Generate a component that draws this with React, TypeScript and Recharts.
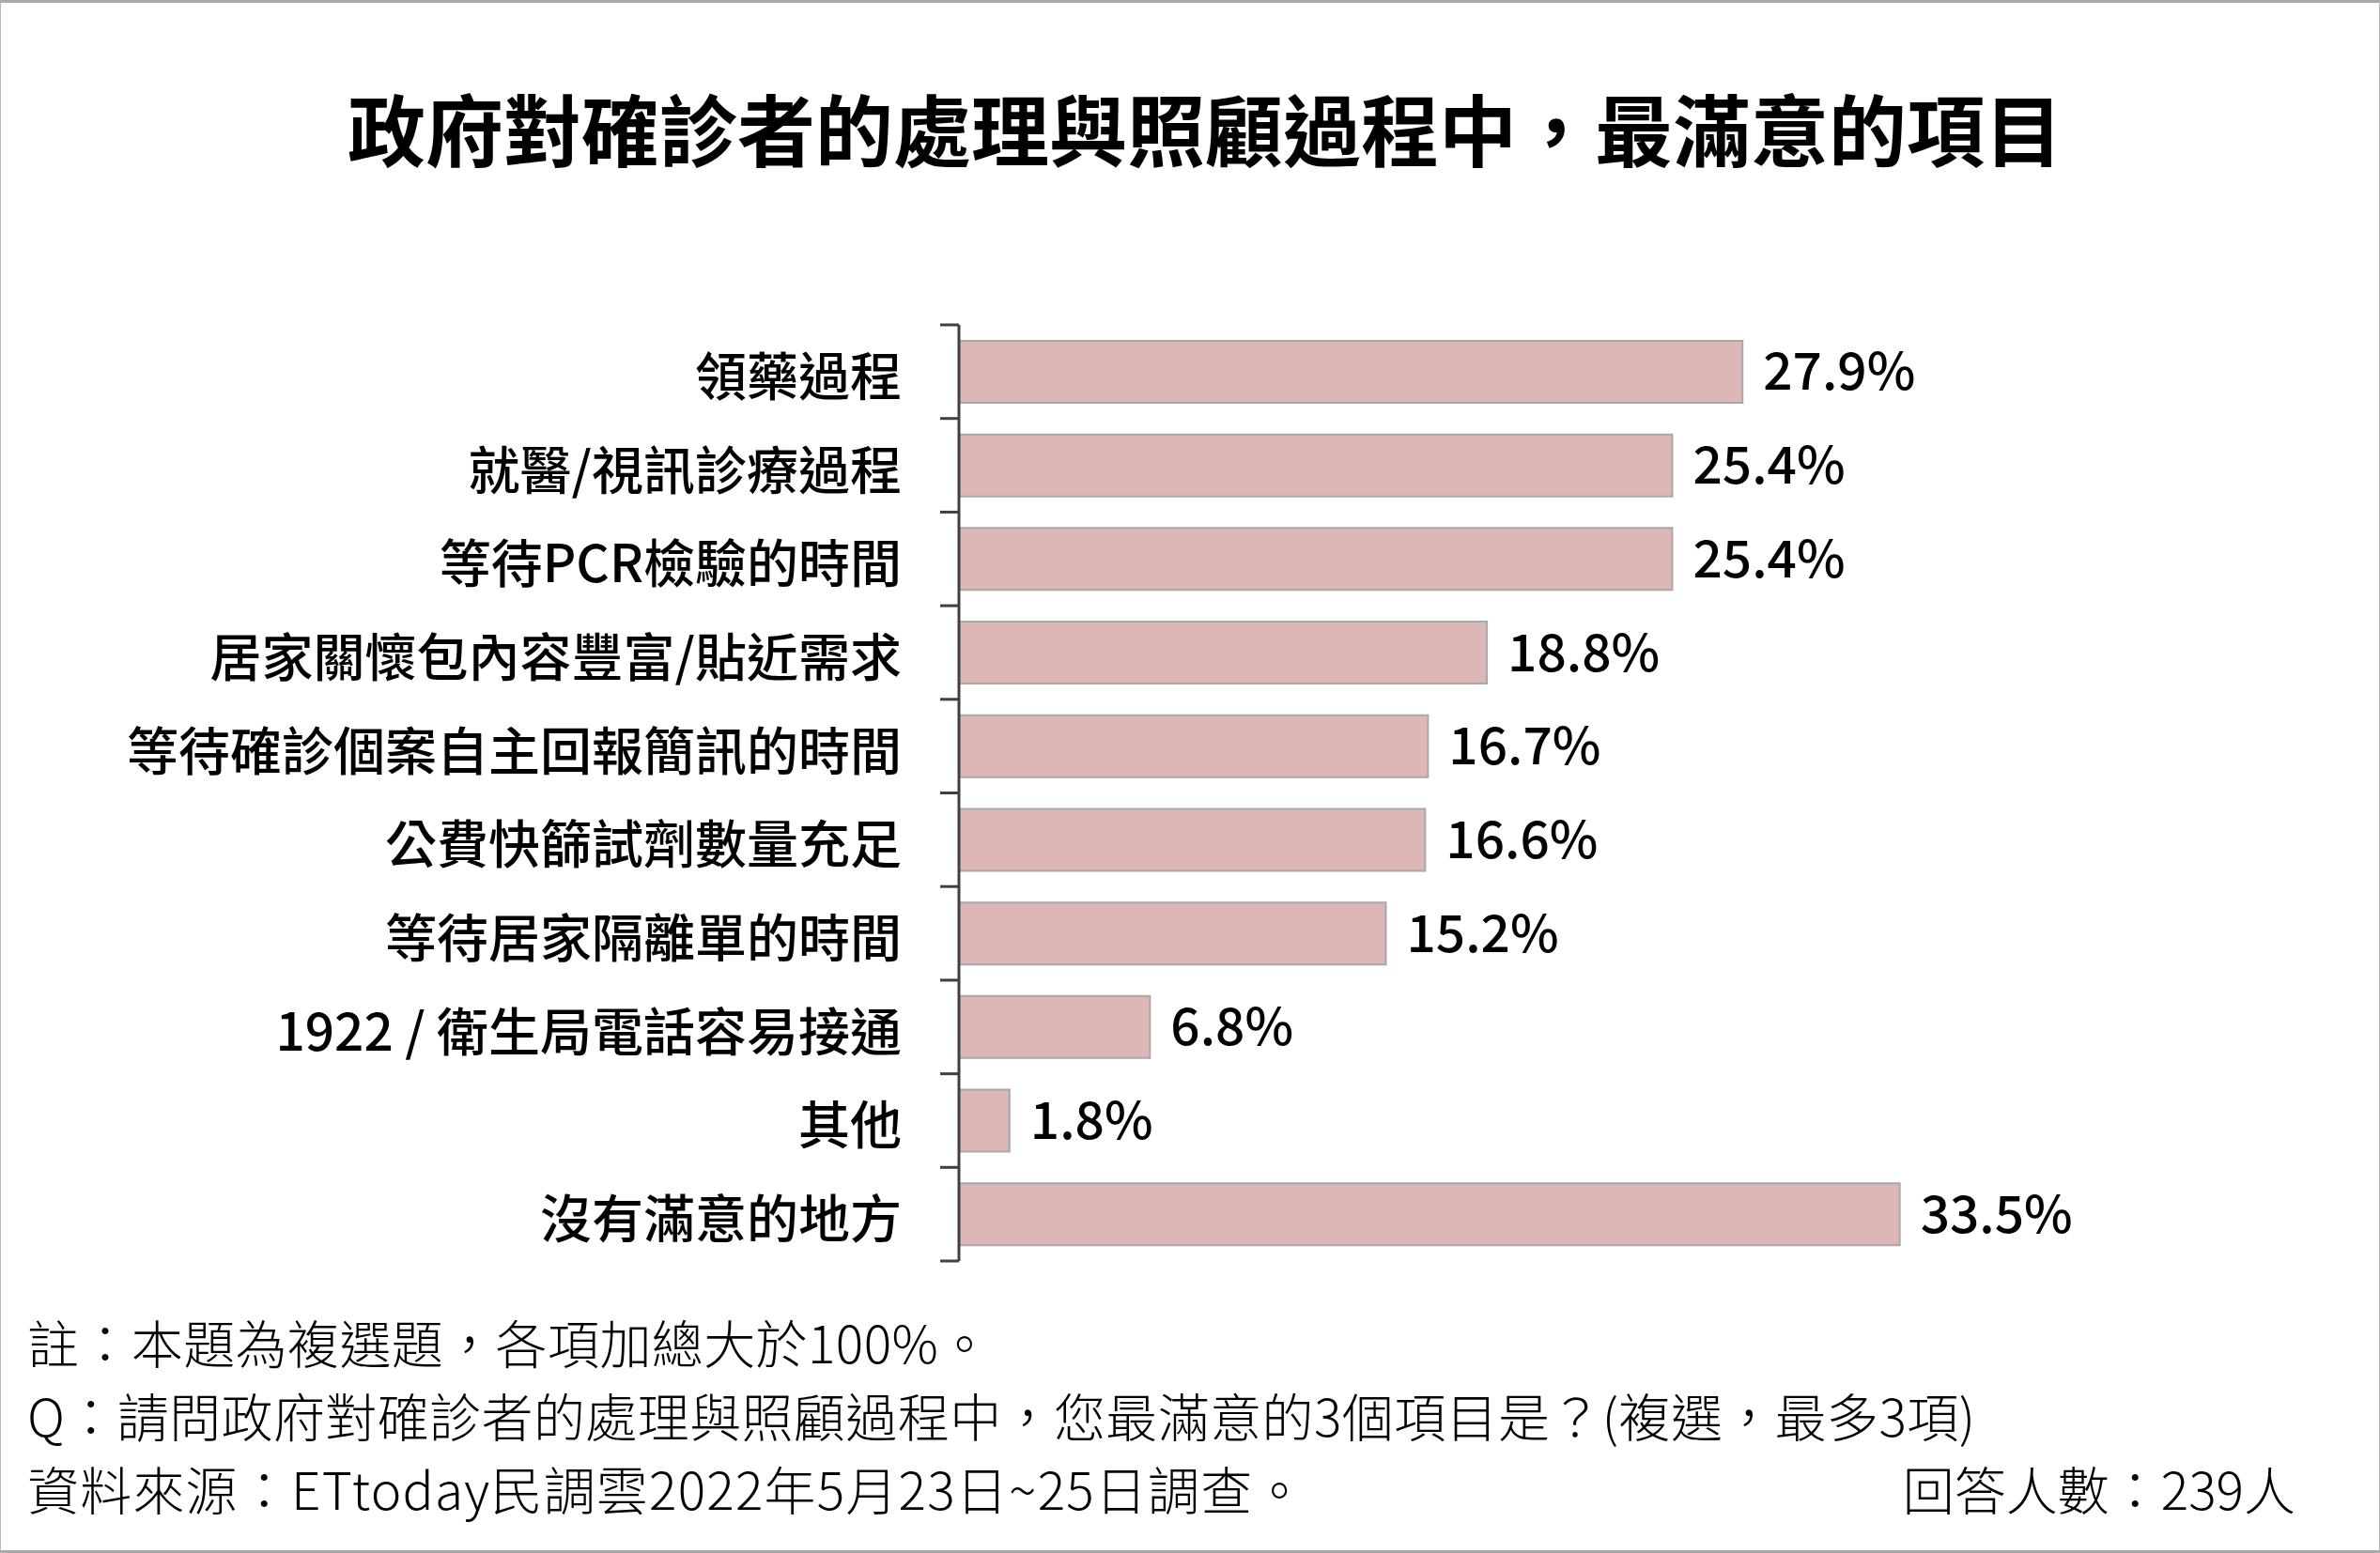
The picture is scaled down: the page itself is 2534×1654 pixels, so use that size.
import React from 'react';
import { BarChart, Bar, XAxis, YAxis, LabelList } from 'recharts';

const categories = [
  '領藥過程',
  '就醫/視訊診療過程',
  '等待PCR檢驗的時間',
  '居家關懷包內容豐富/貼近需求',
  '等待確診個案自主回報簡訊的時間',
  '公費快篩試劑數量充足',
  '等待居家隔離單的時間',
  '1922 / 衛生局電話容易接通',
  '其他',
  '沒有滿意的地方',
];
const values = [27.9, 25.4, 25.4, 18.8, 16.7, 16.6, 15.2, 6.8, 1.8, 33.5];

const title = '政府對確診者的處理與照顧過程中，最滿意的項目';
const noteLines = [
  '註：本題為複選題，各項加總大於100%。',
  'Q：請問政府對確診者的處理與照顧過程中，您最滿意的3個項目是？(複選，最多3項)',
  '資料來源：ETtoday民調雲2022年5月23日~25日調查。',
];
const respondents = '回答人數：239人';

const data = categories.map((name, i) => ({ name, value: values[i] }));

const FONT = '"Noto Sans CJK TC", "Noto Sans", sans-serif';
const W = 2534;
const H = 1654;
const AXIS_X = 1020;
const PLOT_TOP = 346;
const PLOT_BOTTOM = 1343;
const CHART_H = 1400;
const PLOT_RIGHT = 2216;
const AXIS_COLOR = '#404040';

const CategoryTick = (props: any) => {
  const { y, payload, index, visibleTicksCount } = props;
  const half = payload && payload.offset ? payload.offset : 50;
  const isLast = index === (visibleTicksCount ?? categories.length) - 1;
  return (
    <g>
      <line x1={AXIS_X - 20} x2={AXIS_X} y1={y - half} y2={y - half} stroke={AXIS_COLOR} strokeWidth={3} />
      {isLast && (
        <line x1={AXIS_X - 20} x2={AXIS_X} y1={y + half} y2={y + half} stroke={AXIS_COLOR} strokeWidth={3} />
      )}
      <text
        x={AXIS_X - 61}
        y={y + 1}
        textAnchor="end"
        dominantBaseline="central"
        fontFamily={FONT}
        fontSize={55}
        fontWeight={500}
        fill="#000"
      >
        {payload.value}
      </text>
    </g>
  );
};

const noteTops = [1428, 1506, 1584];
const noteSpacing = [0.4, 0.4, 1.2];

export default function App() {
  return (
    <div
      style={{
        position: 'absolute',
        left: 0,
        top: 0,
        width: W,
        height: H,
        background: '#fff',
        boxSizing: 'border-box',
        borderTop: '3px solid #a8a8a8',
        borderBottom: '3px solid #a8a8a8',
        borderLeft: '1px solid #b8b8b8',
        borderRight: '1px solid #b8b8b8',
        overflow: 'hidden',
        fontFamily: FONT,
      }}
    >
      <div
        style={{
          position: 'absolute',
          left: 0,
          top: 82,
          width: W + 30,
          textAlign: 'center',
          fontSize: 83,
          fontWeight: 700,
          lineHeight: '100px',
          color: '#000',
          whiteSpace: 'nowrap',
        }}
      >
        {title}
      </div>

      <div style={{ position: 'absolute', left: 0, top: -3 }}>
        <BarChart
          width={W}
          height={CHART_H}
          data={data}
          layout="vertical"
          margin={{ top: PLOT_TOP, right: W - PLOT_RIGHT, bottom: CHART_H - PLOT_BOTTOM, left: 0 }}
          barCategoryGap="17%"
        >
          <XAxis type="number" domain={[0, 40]} hide />
          <YAxis
            type="category"
            dataKey="name"
            width={AXIS_X}
            axisLine={{ stroke: AXIS_COLOR, strokeWidth: 3 }}
            tickLine={false}
            tick={<CategoryTick />}
            interval={0}
          />
          <Bar dataKey="value" fill="#ddb6b6" stroke="#a8a8a8" strokeWidth={2} isAnimationActive={false}>
            <LabelList
              dataKey="value"
              position="right"
              offset={22}
              formatter={(v: any) => `${Number(v).toFixed(1)}%`}
              style={{ fontFamily: FONT, fontSize: 55, fontWeight: 500, fill: '#000' }}
            />
          </Bar>
        </BarChart>
      </div>

      {noteLines.map((t, i) => (
        <div
          key={i}
          style={{
            position: 'absolute',
            left: 28,
            top: noteTops[i] - 3 - 40,
            fontSize: 55,
            fontWeight: 300,
            letterSpacing: noteSpacing[i],
            lineHeight: '80px',
            color: '#000',
            whiteSpace: 'nowrap',
          }}
        >
          {t}
        </div>
      ))}
      <div
        style={{
          position: 'absolute',
          right: 2534 - 2445,
          top: noteTops[2] - 3 - 40,
          fontSize: 55,
          fontWeight: 300,
          lineHeight: '80px',
          color: '#000',
          whiteSpace: 'nowrap',
        }}
      >
        {respondents}
      </div>
    </div>
  );
}
